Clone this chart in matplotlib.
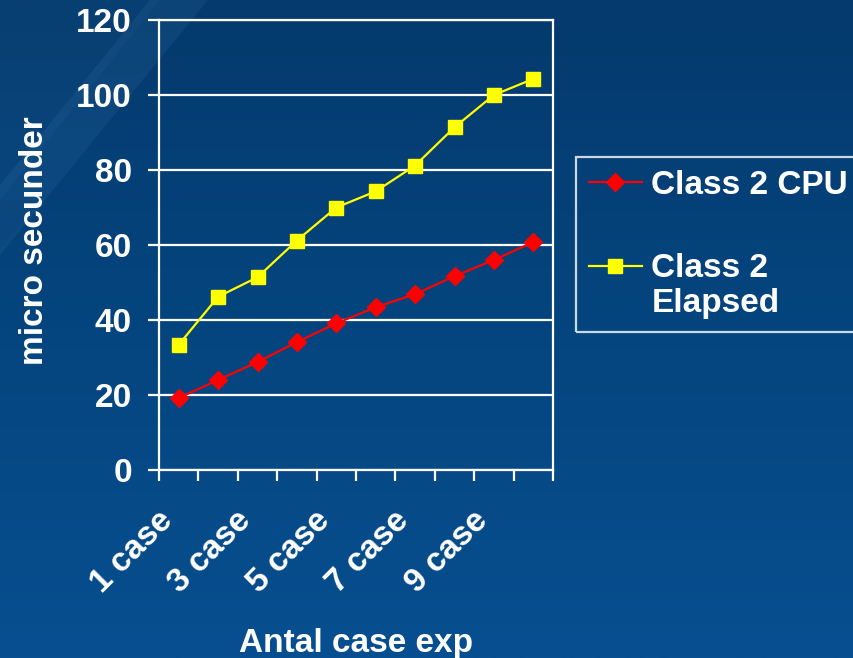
import numpy as np
import matplotlib
matplotlib.use("Agg")
import matplotlib.pyplot as plt
from matplotlib.colors import LinearSegmentedColormap
from matplotlib.patches import Polygon
from matplotlib.legend_handler import HandlerLine2D

# Data
categories = ["1 case", "2 case", "3 case", "4 case", "5 case",
              "6 case", "7 case", "8 case", "9 case", "10 case"]
cpu_values = [19.2, 24.0, 28.8, 34.1, 39.1, 43.4, 46.9, 51.7, 56.0, 60.8]
elapsed_values = [33.4, 46.2, 51.4, 61.2, 70.0, 74.3, 81.2, 91.4, 100.0, 104.3]
y_ticks = [0, 20, 40, 60, 80, 100, 120]

plt.rcParams["font.family"] = ["Liberation Sans", "DejaVu Sans"]
plt.rcParams["font.weight"] = "bold"
FS = 24

W, H = 854, 658
fig = plt.figure(figsize=(W / 100, H / 100), dpi=100)

# Slide-style gradient background with a soft diagonal highlight
bg = fig.add_axes([0, 0, 1, 1], zorder=-10)
cmap = LinearSegmentedColormap.from_list("slide", ["#043a6d", "#05457f", "#074f90"])
grad = np.linspace(0, 1, 256).reshape(-1, 1)
bg.imshow(grad, aspect="auto", cmap=cmap, extent=[0, W, H, 0], origin="upper")


def px_poly(pts, color, alpha):
    bg.add_patch(Polygon(pts, closed=True, facecolor=color, alpha=alpha, edgecolor="none"))


px_poly([(0, 0), (160, 0), (0, 200)], "#3f86bd", 0.07)
px_poly([(150, 0), (208, 0), (0, 255), (0, 185)], "#5a9fd2", 0.10)
px_poly([(0, 200), (40, 200), (0, 250)], "#021f45", 0.06)
bg.set_xlim(0, W)
bg.set_ylim(H, 0)
bg.axis("off")

ax = fig.add_axes([159 / W, 1 - 470 / H, (553 - 159) / W, (470 - 20) / H])
ax.set_facecolor("none")

x = np.arange(len(categories))
l_cpu, = ax.plot(x, cpu_values, color="#ff0000", lw=1.6, marker="D", markersize=9.5,
                 markeredgecolor="#ff0000", label="Class 2 CPU", clip_on=False, zorder=3)
l_el, = ax.plot(x, elapsed_values, color="#ffff00", lw=1.6, marker="s", markersize=9.5,
                markeredgecolor="#ffff00", label="Class 2\nElapsed", clip_on=False, zorder=3)

ax.set_xlim(-0.5, len(categories) - 0.5)
ax.set_ylim(0, 120)
ax.set_yticks(y_ticks)
ax.set_yticklabels([str(v) for v in y_ticks])
ax.grid(axis="y", color="white", lw=1.6)
ax.set_axisbelow(True)

# Category boundaries carry tick marks; every other category is labelled
ax.set_xticks(np.arange(-0.5, len(categories), 1.0))
ax.set_xticklabels([])
ax.set_xticks(x[::2], minor=True)
ax.set_xticklabels(categories[::2], minor=True, rotation=45, ha="right", va="top",
                   rotation_mode="default", fontsize=FS, color="white", fontweight="bold")
ax.tick_params(axis="x", which="minor", length=0, pad=25)
ax.tick_params(axis="x", which="major", length=8, width=1.6, color="white", direction="out")
ax.tick_params(axis="y", length=8, width=1.6, color="white", direction="out",
               labelsize=FS, labelcolor="white", pad=11.5)
for lab in ax.get_yticklabels():
    lab.set_fontweight("bold")

for s in ax.spines.values():
    s.set_color("white")
    s.set_linewidth(1.6)

ax.set_ylabel("micro secunder", fontsize=FS, color="white", fontweight="bold")
ax.yaxis.set_label_coords(-0.277, 0.509)
ax.set_xlabel("Antal case exp", fontsize=FS, color="white", fontweight="bold")
ax.xaxis.set_label_coords(0.5, -0.351)


class FirstLineHandler(HandlerLine2D):
    """Line handler that sits level with the first line of a wrapped label."""

    def __init__(self, lift, **kw):
        super().__init__(**kw)
        self.lift = lift

    def create_artists(self, legend, orig_handle, xdescent, ydescent, width, height,
                       fontsize, trans):
        arts = super().create_artists(legend, orig_handle, xdescent, ydescent, width,
                                      height, fontsize, trans)
        for a in arts:
            a.set_ydata(np.asarray(a.get_ydata(), dtype=float) + self.lift * fontsize)
        return arts


leg = fig.legend(handles=[l_cpu, l_el], loc="upper left",
                 bbox_to_anchor=(576 / W, 1 - 157 / H),
                 frameon=True, fontsize=FS, labelcolor="white", handlelength=1.6,
                 handletextpad=0.28, labelspacing=1.56, borderpad=0.38, borderaxespad=0,
                 fancybox=False,
                 handler_map={l_el: FirstLineHandler(0.6)})
leg.get_frame().set_facecolor("none")
leg.get_frame().set_edgecolor("white")
leg.get_frame().set_linewidth(1.6)
for t in leg.get_texts():
    t.set_fontweight("bold")

fig.savefig("out.png", dpi=100)
